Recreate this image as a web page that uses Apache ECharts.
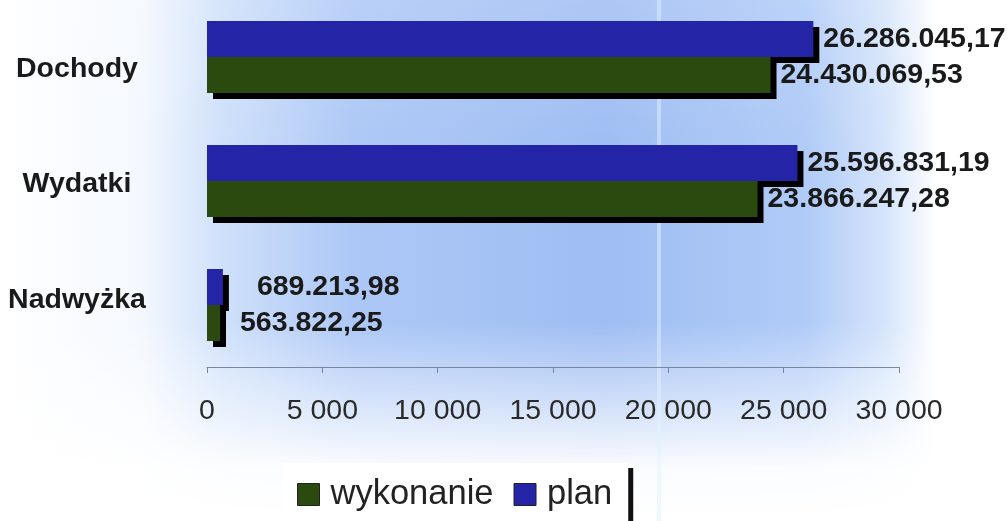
<!DOCTYPE html>
<html>
<head>
<meta charset="utf-8">
<script src="https://cdn.jsdelivr.net/npm/echarts@6/dist/echarts.min.js"></script>
<style>
html,body{margin:0;padding:0;background:#fff;}
#c{width:1008px;height:521px;}
</style>
</head>
<body>
<div id="c"></div>
<script>
// categories listed top to bottom as in the picture
const categories = ['Dochody', 'Wydatki', 'Nadwyżka'];
// values in złoty
const wykonanie = [24430069.53, 23866247.28, 563822.25];
const plan = [26286045.17, 25596831.19, 689213.98];
const xTicks = [0, 5000, 10000, 15000, 20000, 25000, 30000];

function fmtPL(v) {
  const parts = v.toFixed(2).split('.');
  return parts[0].replace(/\B(?=(\d{3})+(?!\d))/g, '.') + ',' + parts[1];
}
function fmtAxis(v) {
  return String(v).replace(/\B(?=(\d{3})+(?!\d))/g, ' ');
}

// value axis is in thousands; category axis runs bottom-up
const catsBottomUp = categories.slice().reverse();
const wykBottomUp = wykonanie.slice().reverse();
const planBottomUp = plan.slice().reverse();

const FONT = '"Liberation Sans", Arial, sans-serif';

function barSeries(name, raw, color, smallDist) {
  return {
    name: name,
    type: 'bar',
    data: raw.map(v => ({
      value: v / 1000,
      label: v < 1000000 ? {distance: smallDist} : undefined
    })),
    barWidth: 36,
    barGap: '0%',
    itemStyle: {
      color: color,
      borderWidth: 0,
      shadowColor: 'rgba(0,0,0,1)',
      shadowBlur: 0,
      shadowOffsetX: 6,
      shadowOffsetY: 6
    },
    label: {
      show: true,
      position: 'right',
      distance: 10,
      fontFamily: FONT,
      fontWeight: 'bold',
      fontSize: 28.5,
      color: '#1a1a1a',
      formatter: p => fmtPL(raw[p.dataIndex])
    }
  };
}

const catLabelStyle = {fontFamily: FONT, fontWeight: 'bold', fontSize: 28.5, color: '#1a1a1a', align: 'center'};

const chart = echarts.init(document.getElementById('c'), null, {renderer: 'canvas'});
chart.setOption({
  animation: false,
  backgroundColor: '#ffffff',
  graphic: [
    {
      type: 'rect', z: -100, silent: true,
      shape: {x: 0, y: 0, width: 1008, height: 521},
      style: {
        fill: new echarts.graphic.LinearGradient(0, 0, 1, 0, [
          {offset: 0, color: '#ffffff'},
          {offset: 0.14, color: '#f4f8fe'},
          {offset: 0.22, color: '#cfe0fa'},
          {offset: 0.35, color: '#adc8f6'},
          {offset: 0.6, color: '#9fbdf3'},
          {offset: 0.8, color: '#b0cbf7'},
          {offset: 0.88, color: '#d6e5fb'},
          {offset: 0.93, color: '#ffffff'},
          {offset: 1, color: '#ffffff'}
        ])
      }
    },
    {
      type: 'rect', z: -99, silent: true,
      shape: {x: 0, y: 0, width: 1008, height: 521},
      style: {
        fill: new echarts.graphic.LinearGradient(0, 0, 0, 1, [
          {offset: 0, color: 'rgba(255,255,255,0.15)'},
          {offset: 0.3, color: 'rgba(255,255,255,0)'},
          {offset: 0.62, color: 'rgba(255,255,255,0)'},
          {offset: 0.8, color: 'rgba(255,255,255,0.6)'},
          {offset: 0.9, color: 'rgba(255,255,255,0.95)'},
          {offset: 1, color: 'rgba(255,255,255,1)'}
        ])
      }
    },
    {
      type: 'rect', z: -98, silent: true,
      shape: {x: 657, y: 0, width: 4, height: 521},
      style: {fill: 'rgba(225,242,255,0.5)'}
    }
  ],
  grid: {left: 207, right: 109, top: -5, bottom: 154, containLabel: false, outerBoundsMode: 'none'},
  legend: {
    data: ['wykonanie', 'plan'],
    icon: 'rect',
    left: 283,
    top: 463,
    orient: 'horizontal',
    itemWidth: 22,
    itemHeight: 22,
    itemGap: 20,
    padding: [14, 16, 24, 14],
    backgroundColor: '#ffffff',
    borderWidth: 0,
    shadowColor: '#111',
    shadowBlur: 0,
    shadowOffsetX: 5,
    shadowOffsetY: 5,
    itemStyle: {shadowBlur: 0, shadowOffsetX: 0, shadowOffsetY: 0, shadowColor: 'transparent', borderColor: '#222', borderWidth: 1},
    textStyle: {fontFamily: FONT, fontSize: 34.5, color: '#222', padding: [0, 0, 0, 6]}
  },
  xAxis: {
    type: 'value',
    min: 0,
    max: 30000,
    interval: 5000,
    axisLine: {show: true, lineStyle: {color: '#7a86a0', width: 1}},
    axisTick: {show: true, length: 6, lineStyle: {color: '#7a86a0'}},
    splitLine: {show: false},
    axisLabel: {
      margin: 30,
      fontFamily: FONT,
      fontSize: 28.5,
      color: '#2a2a2a',
      formatter: v => xTicks.indexOf(v) >= 0 ? fmtAxis(v) : ''
    }
  },
  yAxis: {
    type: 'category',
    data: catsBottomUp,
    axisLine: {show: false},
    axisTick: {show: false},
    axisLabel: {
      margin: 130,
      align: 'center',
      fontFamily: FONT,
      fontWeight: 'bold',
      fontSize: 28.5,
      color: '#1a1a1a',
      // the scanned labels sit slightly off their band centres
      formatter: (v, i) => '{c' + i + '|' + v + '}',
      rich: {
        c0: Object.assign({padding: [0, 0, 10, 0]}, catLabelStyle),
        c1: Object.assign({padding: [6, 0, 0, 0]}, catLabelStyle),
        c2: Object.assign({padding: [24, 0, 0, 0]}, catLabelStyle)
      }
    }
  },
  series: [
    barSeries('plan', planBottomUp, '#2424a6', 34),
    barSeries('wykonanie', wykBottomUp, '#2b4a10', 20)
  ]
});
</script>
</body>
</html>
